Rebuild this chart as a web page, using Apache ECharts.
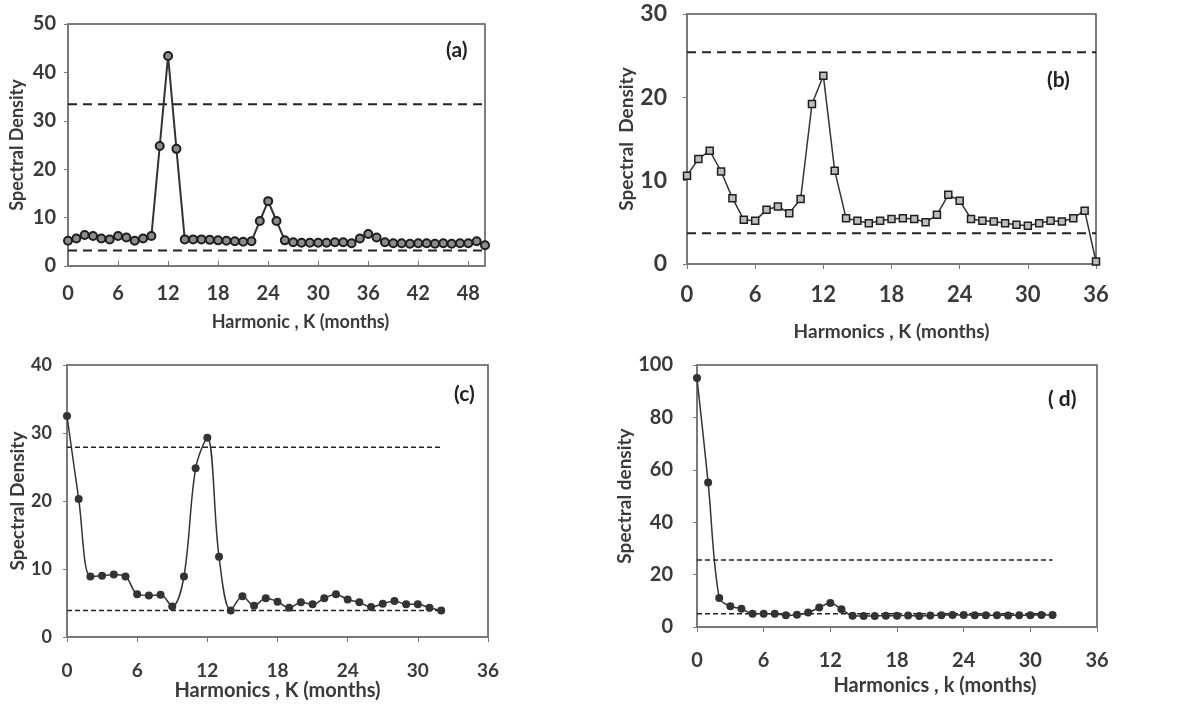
<!DOCTYPE html>
<html>
<head>
<meta charset="utf-8">
<script src="https://cdn.jsdelivr.net/npm/echarts@6/dist/echarts.min.js"></script>
<style>
  html, body { margin: 0; padding: 0; background: #fff; }
  #chart { width: 1198px; height: 709px; }
</style>
</head>
<body>
<div id="chart"></div>
<script>
// Harmonic numbers (k) for each panel
const kA = Array.from({ length: 51 }, (_, i) => i);
const kB = Array.from({ length: 37 }, (_, i) => i);
const kC = Array.from({ length: 33 }, (_, i) => i);
const kD = Array.from({ length: 33 }, (_, i) => i);

// Spectral density estimates
const densityA = [5.2, 5.7, 6.4, 6.2, 5.7, 5.5, 6.2, 5.9, 5.2, 5.7, 6.2, 24.8, 43.4, 24.2, 5.5,
  5.5, 5.5, 5.4, 5.3, 5.2, 5.1, 5.0, 5.1, 9.3, 13.4, 9.3, 5.3, 4.9, 4.8, 4.8, 4.8, 4.8, 4.9, 4.9,
  4.7, 5.7, 6.6, 5.9, 4.9, 4.7, 4.7, 4.6, 4.7, 4.7, 4.6, 4.7, 4.6, 4.7, 4.7, 5.1, 4.3];
const densityB = [10.6, 12.6, 13.6, 11.1, 7.9, 5.3, 5.2, 6.5, 6.9, 6.1, 7.8, 19.2, 22.6, 11.2,
  5.5, 5.2, 4.9, 5.2, 5.4, 5.5, 5.4, 5.0, 5.9, 8.3, 7.6, 5.4, 5.2, 5.1, 4.9, 4.7, 4.6, 4.9, 5.2,
  5.1, 5.5, 6.4, 0.3];
const densityC = [32.5, 20.3, 8.9, 9.0, 9.2, 8.9, 6.3, 6.1, 6.2, 4.5, 8.9, 24.8, 29.3, 11.8, 3.9,
  6.0, 4.6, 5.7, 5.2, 4.3, 5.1, 4.8, 5.7, 6.3, 5.5, 5.1, 4.4, 4.9, 5.3, 4.8, 4.8, 4.3, 3.9];
const densityD = [95.0, 55.2, 11.1, 7.9, 7.0, 5.1, 5.1, 5.1, 4.5, 4.7, 5.5, 7.4, 9.2, 6.8, 4.3,
  4.2, 4.2, 4.3, 4.3, 4.4, 4.2, 4.4, 4.5, 4.6, 4.6, 4.5, 4.5, 4.5, 4.4, 4.5, 4.5, 4.6, 4.6];

// Confidence limits: [lower, upper] and the k-range they span
const limitsA = [3.2, 33.4];
const limitsB = [3.7, 25.4];
const limitsC = [3.9, 27.9];
const limitsD = [5.1, 25.6];
const limitSpanA = [0, 50];
const limitSpanB = [0, 36];
const limitSpanC = [0, 32];
const limitSpanD = [0, 32];

// Axis ranges
const xMaxA = 50, yMaxA = 50, yStepA = 10;
const xMaxB = 36, yMaxB = 30, yStepB = 10;
const xMaxC = 36, yMaxC = 40, yStepC = 10;
const xMaxD = 36, yMaxD = 100, yStepD = 20;
const xStep = 6;

// Texts
const panelTags = ['(a)', '(b)', '(c)', '( d)'];
const xNames = ['Harmonic , K (months)', 'Harmonics , K (months)', 'Harmonics , K (months)', 'Harmonics , k (months)'];
const yNames = ['Spectral Density', 'Spectral  Density', 'Spectral Density', 'Spectral density'];

const FONT = 'Lato, "Open Sans", sans-serif';
const TXT = '#3a3a3a';

const pairs = (xs, ys) => xs.map((x, i) => [x, ys[i]]);
const hline = (span, v) => [[span[0], v], [span[1], v]];

const grids = [
  { left: 68, top: 24, width: 417, height: 242 },
  { left: 687, top: 14, width: 409, height: 250 },
  { left: 67, top: 365, width: 421, height: 272 },
  { left: 697, top: 365, width: 400, height: 262 }
].map(g => Object.assign({ show: true, borderColor: '#555', borderWidth: 1.5, backgroundColor: 'transparent' }, g));

function xAxis(idx, max, fs, margin, name, nameGap, nameFs, tickInside, namePad) {
  return {
    type: 'value', gridIndex: idx, min: 0, max: max, interval: xStep,
    axisLine: { show: true, onZero: false, lineStyle: { color: '#777', width: 1.5 } },
    axisTick: { show: true, inside: tickInside, length: 5, lineStyle: { color: '#777' } },
    splitLine: { show: false },
    axisLabel: { fontFamily: FONT, fontSize: fs, fontWeight: 'bold', color: TXT, margin: margin,
      showMaxLabel: max % xStep === 0 },
    name: name, nameLocation: 'middle', nameGap: nameGap,
    nameTextStyle: { fontFamily: FONT, fontSize: nameFs, fontWeight: 'bold', color: TXT, padding: namePad || 0 }
  };
}

function yAxis(idx, max, step, fs, margin, name, nameGap, nameFs) {
  return {
    type: 'value', gridIndex: idx, min: 0, max: max, interval: step,
    axisLine: { show: true, lineStyle: { color: '#777', width: 1.5 } },
    axisTick: { show: true, length: 4, lineStyle: { color: '#777' } },
    splitLine: { show: false },
    axisLabel: { fontFamily: FONT, fontSize: fs, fontWeight: 'bold', color: TXT, margin: margin },
    name: name, nameLocation: 'middle', nameGap: nameGap,
    nameTextStyle: { fontFamily: FONT, fontSize: nameFs, fontWeight: 'bold', color: TXT }
  };
}

function dataSeries(idx, data, symbol, size, fill, border, bw, lw, smooth) {
  return {
    type: 'line', xAxisIndex: idx, yAxisIndex: idx, data: data, smooth: smooth,
    symbol: symbol, symbolSize: size, showSymbol: true, z: 3,
    lineStyle: { color: '#333', width: lw },
    itemStyle: { color: fill, borderColor: border, borderWidth: bw }
  };
}

function limitSeries(idx, data, dash, width) {
  return {
    type: 'line', xAxisIndex: idx, yAxisIndex: idx, data: data, symbol: 'none', z: 2,
    lineStyle: { color: '#222', width: width, type: dash }
  };
}

function tag(text, x, y) {
  return {
    type: 'text', left: x, top: y,
    style: { text: text, fontFamily: FONT, fontSize: 21, fontWeight: 'bold', fill: '#222' }
  };
}

const option = {
  animation: false,
  backgroundColor: '#fff',
  grid: grids,
  xAxis: [
    xAxis(0, xMaxA, 20, 18, xNames[0], 47, 18, true, [0, 0, 0, 48]),
    xAxis(1, xMaxB, 22, 20, xNames[1], 58, 19, false),
    xAxis(2, xMaxC, 19, 24, xNames[2], 43, 20, false),
    xAxis(3, xMaxD, 20, 24, xNames[3], 49, 20, false, [0, 0, 0, 76])
  ],
  yAxis: [
    yAxis(0, yMaxA, yStepA, 20, 12, yNames[0], 42, 18),
    yAxis(1, yMaxB, yStepB, 23, 20, yNames[1], 49, 19),
    yAxis(2, yMaxC, yStepC, 18, 15, yNames[2], 33, 19),
    yAxis(3, yMaxD, yStepD, 20, 24, yNames[3], 46, 19)
  ],
  series: [
    limitSeries(0, hline(limitSpanA, limitsA[0]), [9, 6], 2),
    limitSeries(0, hline(limitSpanA, limitsA[1]), [9, 6], 2),
    dataSeries(0, pairs(kA, densityA), 'circle', 8, '#8c8c8c', '#1e1e1e', 2, 2, false),
    limitSeries(1, hline(limitSpanB, limitsB[0]), [9, 6], 2),
    limitSeries(1, hline(limitSpanB, limitsB[1]), [9, 6], 2),
    dataSeries(1, pairs(kB, densityB), 'rect', 7, '#bdbdbd', '#1e1e1e', 1.5, 1.5, false),
    limitSeries(2, hline(limitSpanC, limitsC[0]), [5, 3], 1.5),
    limitSeries(2, hline(limitSpanC, limitsC[1]), [5, 3], 1.5),
    dataSeries(2, pairs(kC, densityC), 'circle', 8, '#333', '#333', 0, 1.5, 0.35),
    limitSeries(3, hline(limitSpanD, limitsD[0]), [5, 3], 1.5),
    limitSeries(3, hline(limitSpanD, limitsD[1]), [5, 3], 1.5),
    dataSeries(3, pairs(kD, densityD), 'circle', 8, '#333', '#333', 0, 1.5, 0.35)
  ],
  graphic: [
    tag(panelTags[0], 446, 40),
    tag(panelTags[1], 1047, 70),
    tag(panelTags[2], 454, 384),
    tag(panelTags[3], 1048, 389)
  ]
};

const chart = echarts.init(document.getElementById('chart'), null, { renderer: 'canvas' });
chart.setOption(option);
</script>
</body>
</html>
